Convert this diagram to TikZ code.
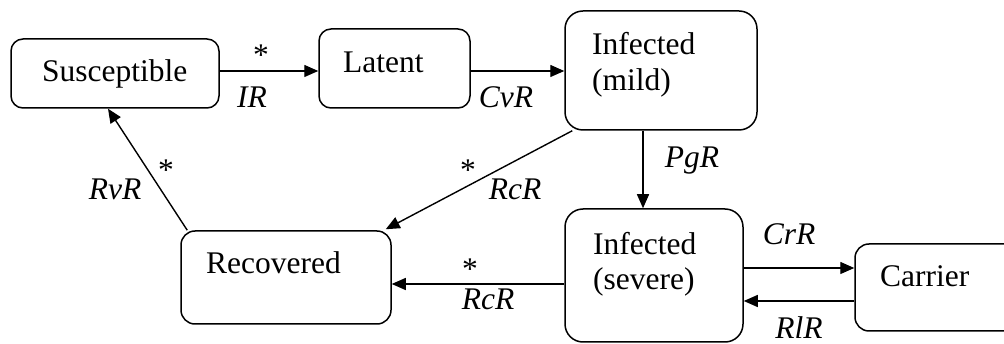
\documentclass[tikz,border=0pt]{standalone}
\usepackage{fontspec}
\setmainfont{Liberation Serif}
\usetikzlibrary{arrows.meta,calc}
\begin{document}
\begin{tikzpicture}[x=1pt,y=-1pt,
  box/.style={draw,line width=1.5pt,rounded corners=#1,inner sep=0pt},
  box/.default=12pt,
  txt/.style={anchor=base west,inner sep=0pt,font=\fontsize{31.5}{36}\selectfont},
  lab/.style={anchor=base,inner sep=0pt,font=\fontsize{31.5}{36}\selectfont\itshape},
  star/.style={anchor=base,inner sep=0pt,font=\fontsize{31.5}{36}\selectfont},
  arr/.style={line width=1.4pt,-{Triangle[length=14pt,width=12pt]}}]
\clip (0,0) rectangle (1004,344);
\useasboundingbox (0,0) rectangle (1004,344);
% boxes
\node[box,minimum width=208pt,minimum height=69pt] (sus) at (115,73.5) {};
\node[box,minimum width=151pt,minimum height=79pt] (lat) at (394.5,68.5) {};
\node[box=18pt,minimum width=192pt,minimum height=119pt] (im) at (661,70.5) {};
\node[box=18pt,minimum width=178pt,minimum height=133pt] (is) at (654,275.5) {};
\node[box=14pt,minimum width=210pt,minimum height=93pt] (rec) at (286,277.5) {};
\node[box=14pt,minimum width=170pt,minimum height=87pt] (car) at (940,287.5) {};
% box texts
\node[txt] (sust) at (42,82) {Susceptible};
\node[txt] (latt) at (343,73) {Latent};
\node[txt] (imt1) at (592,55) {Infected};
\node[txt] (imt2) at (592,91) {(mild)};
\node[txt] (ist1) at (593,255) {Infected};
\node[txt] (ist2) at (593,290) {(severe)};
\node[txt] (rect) at (206,274) {Recovered};
\node[txt] (cart) at (880,287) {Carrier};
% connectors
\draw[arr] (sus.east |- 0,71) -- (lat.west |- 0,71);
\draw[arr] (lat.east |- 0,71) -- (im.west |- 0,71);
\draw[arr] (im.south -| 643,0) -- (is.north -| 643,0);
\draw[arr] ($(im.south west)+(8,0)$) -- ($(rec.north east)+(-6,-1)$);
\draw[arr] (is.west |- 0,284) -- (rec.east |- 0,284);
\draw[arr] (is.east |- 0,268) -- (car.west |- 0,268);
\draw[arr] (car.west |- 0,301) -- (is.east |- 0,301);
\draw[arr] ($(rec.north west)+(7,0)$) -- (sus.south -| 108,0);
% labels
\node[star] (s1) at (261,66) {*};
\node[lab] (l1) at (252,108) {IR};
\node[lab] (l2) at (506,108) {CvR};
\node[lab] (l3) at (692,168) {PgR};
\node[star] (s2) at (468,181) {*};
\node[lab] (l4) at (515,200) {RcR};
\node[star] (s3) at (470,280) {*};
\node[lab] (l5) at (488,310) {RcR};
\node[lab] (l6) at (789,245) {CrR};
\node[lab] (l7) at (799,339) {RlR};
\node[star] (s4) at (166,181) {*};
\node[lab] (l8) at (115,200) {RvR};
\end{tikzpicture}
\end{document}
